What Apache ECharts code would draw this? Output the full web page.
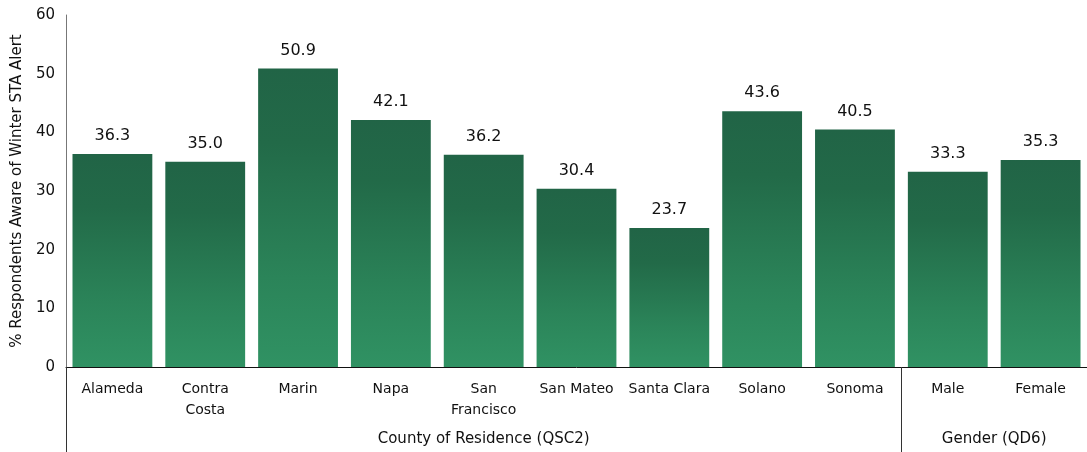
<!DOCTYPE html>
<html><head><meta charset="utf-8">
<script src="https://cdn.jsdelivr.net/npm/echarts@6/dist/echarts.min.js"></script>
<style>html,body{margin:0;padding:0;background:#fff}#c{width:1087px;height:452px}</style>
</head><body><div id="c"></div>
<script>
const categories = ['Alameda','Contra\nCosta','Marin','Napa','San\nFrancisco','San Mateo','Santa Clara','Solano','Sonoma','Male','Female'];
const values = [36.3, 35.0, 50.9, 42.1, 36.2, 30.4, 23.7, 43.6, 40.5, 33.3, 35.3];
const groupLabels = ['County of Residence (QSC2)', 'Gender (QD6)'];
const groupCenters = [4.5, 10];
const groupBoundaries = [0, 9];
const yTicks = [0, 10, 20, 30, 40, 50, 60];

const FONT = 'DejaVu Sans';
const chart = echarts.init(document.getElementById('c'));
chart.setOption({
  animation: false,
  textStyle: { fontFamily: FONT },
  grid: { left: 66, right: 0, top: 15, bottom: 85, containLabel: false, outerBoundsMode: 'none' },
  xAxis: [{
    type: 'category', data: categories,
    axisLine: { lineStyle: { color: '#111', width: 1 } },
    axisTick: { show: false },
    axisLabel: { fontFamily: FONT, fontSize: 14, color: '#111', margin: 12, lineHeight: 21, interval: 0 }
  }, {
    type: 'value', min: 0, max: categories.length, position: 'bottom',
    axisLine: { show: false },
    splitLine: { show: false },
    axisTick: { show: true, customValues: groupBoundaries, length: 86, lineStyle: { color: '#333', width: 1 } },
    axisLabel: { customValues: groupCenters, margin: 65, fontFamily: FONT, fontSize: 15, color: '#111',
      formatter: function (v) { const i = groupCenters.indexOf(v); return i >= 0 ? groupLabels[i] : ''; } }
  }],
  yAxis: {
    type: 'value', min: 0, max: 60, interval: 10,
    name: '% Respondents Aware of Winter STA Alert', nameLocation: 'middle', nameGap: 38, nameRotate: 90,
    nameTextStyle: { fontFamily: FONT, fontSize: 15, color: '#111' },
    axisLine: { show: true, lineStyle: { color: '#777' } },
    axisTick: { show: false },
    splitLine: { show: false },
    axisLabel: { fontFamily: FONT, fontSize: 15, color: '#111', margin: 11,
      customValues: yTicks }
  },
  series: [{
    type: 'bar', data: values, xAxisIndex: 0,
    barCategoryGap: '14%',
    itemStyle: {
      color: new echarts.graphic.LinearGradient(0, 0, 0, 1, [
        { offset: 0, color: '#216446' },
        { offset: 0.25, color: '#226a48' },
        { offset: 0.7, color: '#2b8459' },
        { offset: 1, color: '#309263' }
      ])
    },
    label: { show: true, position: 'top', distance: 10, fontFamily: FONT, fontSize: 16, color: '#111',
      formatter: function (p) { return p.value.toFixed(1); } }
  }]
});
</script></body></html>
